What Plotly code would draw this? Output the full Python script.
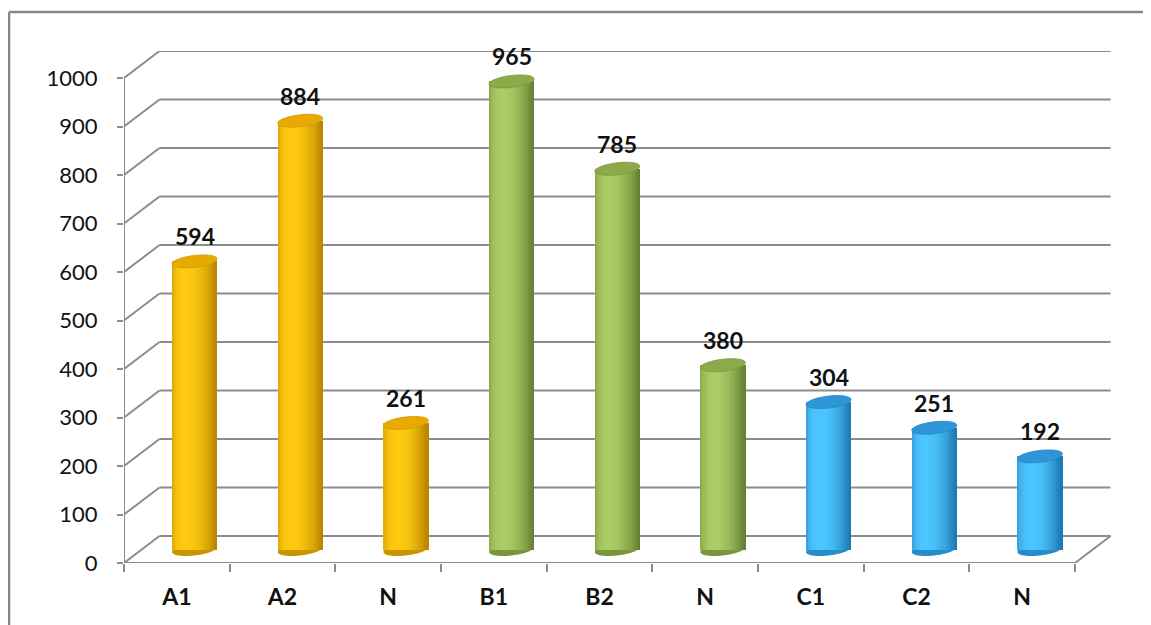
import math
import plotly.graph_objects as go

# ---------------- data ----------------
categories = ["A1", "A2", "N", "B1", "B2", "N", "C1", "C2", "N"]
values = [594, 884, 261, 965, 785, 380, 304, 251, 192]
groups = ["A", "A", "A", "B", "B", "B", "C", "C", "C"]
y_ticks = [0, 100, 200, 300, 400, 500, 600, 700, 800, 900, 1000]

# ---------------- style ----------------
PAGE_OFF = 8                      # default body margin of the html page
W, H = 1151 - PAGE_OFF, 625 - PAGE_OFF
ML, MR, MT, MB = 124 - PAGE_OFF, 39, 51 - PAGE_OFF, 62
PLOT_W = W - ML - MR
PLOT_H = H - MT - MB
X_RANGE = [-0.5, 8.85]
DEPTH_X = 0.336            # depth offset (category units)
Y_MAX_FRONT = 1000
DEPTH_Y_PX = 27
px_per_x = PLOT_W / (X_RANGE[1] - X_RANGE[0])
y_top = Y_MAX_FRONT / (PLOT_H - DEPTH_Y_PX) * PLOT_H
px_per_y = PLOT_H / y_top
DEPTH_Y = DEPTH_Y_PX / px_per_y
GRID = "#8C8C8C"
FONT = "Lato"

palette = {
    "A": {"dark": (186, 136, 0), "light": (255, 202, 16), "top": (232, 170, 0), "bot": (200, 148, 0)},
    "B": {"dark": (104, 130, 52), "light": (172, 204, 102), "top": (139, 170, 74), "bot": (120, 150, 60)},
    "C": {"dark": (30, 122, 180), "light": (76, 198, 255), "top": (46, 150, 214), "bot": (40, 140, 200)},
}

BAR_W = 0.426
mid_x = DEPTH_X / 2
mid_y = DEPTH_Y / 2
NSLICE = 22


def mix(c1, c2, t):
    return "rgb(%d,%d,%d)" % tuple(round(a + (b - a) * t) for a, b in zip(c1, c2))


def shade(t):
    s = 2 * t - 1
    nz = math.sqrt(max(0.0, 1 - s * s))
    lx, lz = -0.38, 0.925
    return max(0.0, s * lx + nz * lz) ** 1.3


fig = go.Figure()

xs = [i + mid_x for i in range(len(categories))]
bases = [mid_y] * len(values)

for k in range(NSLICE):
    t = (k + 0.5) / NSLICE
    cols = [mix(palette[g]["dark"], palette[g]["light"], shade(t)) for g in groups]
    fig.add_trace(go.Bar(
        x=xs, y=values, base=bases,
        width=BAR_W / NSLICE * 1.08,
        offset=-BAR_W / 2 + k * BAR_W / NSLICE,
        marker=dict(color=cols, line=dict(width=0)),
        hoverinfo="skip", showlegend=False,
    ))

shapes = []

# back wall gridlines + left wall diagonals
for v in y_ticks:
    shapes.append(dict(type="line", xref="x", yref="y", layer="below",
                       x0=X_RANGE[0] + DEPTH_X, x1=8.5 + DEPTH_X, y0=v + DEPTH_Y, y1=v + DEPTH_Y,
                       line=dict(color=GRID, width=2)))
    shapes.append(dict(type="line", xref="x", yref="y", layer="below",
                       x0=X_RANGE[0], x1=X_RANGE[0] + DEPTH_X, y0=v, y1=v + DEPTH_Y,
                       line=dict(color=GRID, width=2)))
# floor front edge and right diagonal
shapes.append(dict(type="line", xref="x", yref="y", layer="below",
                   x0=X_RANGE[0], x1=8.5, y0=0, y1=0, line=dict(color=GRID, width=2)))
shapes.append(dict(type="line", xref="x", yref="y", layer="below",
                   x0=8.5, x1=8.5 + DEPTH_X, y0=0, y1=DEPTH_Y, line=dict(color=GRID, width=2)))
# front value axis
shapes.append(dict(type="line", xref="x", yref="y", layer="below",
                   x0=X_RANGE[0], x1=X_RANGE[0], y0=0, y1=Y_MAX_FRONT, line=dict(color=GRID, width=2)))
# outer chart frame (left and top edges visible)
FR_L, FR_T = 1, 4
shapes.append(dict(type="line", xref="paper", yref="paper", layer="below",
                   x0=(FR_L - ML) / PLOT_W, x1=(W + 10 - ML) / PLOT_W,
                   y0=(H - FR_T - MB) / PLOT_H, y1=(H - FR_T - MB) / PLOT_H,
                   line=dict(color="#878787", width=2.5)))
shapes.append(dict(type="line", xref="paper", yref="paper", layer="below",
                   x0=(FR_L - ML) / PLOT_W, x1=(FR_L - ML) / PLOT_W,
                   y0=-(MB + 10) / PLOT_H, y1=(H - FR_T - MB) / PLOT_H,
                   line=dict(color="#878787", width=2.5)))


def ellipse_path(cx, cy, a_px, b_px, tilt_px, n=48):
    pts = []
    for j in range(n):
        ph = 2 * math.pi * j / n
        dxp = a_px * math.cos(ph)
        dyp = b_px * math.sin(ph) + tilt_px * math.cos(ph)
        pts.append((cx + dxp / px_per_x, cy + dyp / px_per_y))
    return "M " + " L ".join("%.5f,%.3f" % p for p in pts) + " Z"


A_PX = BAR_W * px_per_x / 2
B_PX = 6.0
TILT = 2.5
for x, v, g in zip(xs, values, groups):
    shapes.append(dict(type="path", xref="x", yref="y", layer="below",
                       path=ellipse_path(x, mid_y, A_PX, B_PX, TILT),
                       fillcolor=mix(palette[g]["bot"], palette[g]["bot"], 0),
                       line=dict(width=0)))
    shapes.append(dict(type="path", xref="x", yref="y", layer="above",
                       path=ellipse_path(x, mid_y + v, A_PX, B_PX, TILT),
                       fillcolor=mix(palette[g]["top"], palette[g]["top"], 0),
                       line=dict(color=mix(palette[g]["dark"], palette[g]["top"], 0.5), width=0.8)))

annotations = []
for x, v in zip(xs, values):
    annotations.append(dict(x=x, y=mid_y + v, xref="x", yref="y", text=str(v),
                            showarrow=False, yshift=25, yanchor="middle",
                            font=dict(family=FONT, size=23, color="#111111", weight="bold")))

fig.update_layout(
    width=W, height=H,
    margin=dict(l=ML, r=MR, t=MT, b=MB),
    paper_bgcolor="white", plot_bgcolor="white",
    barmode="overlay", bargap=0,
    showlegend=False,
    shapes=shapes, annotations=annotations,
    font=dict(family=FONT, color="#111111"),
    xaxis=dict(range=X_RANGE, showgrid=False, zeroline=False, showline=False,
               tickmode="array", tickvals=list(range(len(categories))), ticktext=categories,
               ticks="", ticklabelstandoff=18,
               tickfont=dict(family=FONT, size=23, color="#111111", weight="bold"),
               minor=dict(tickmode="array", tickvals=[i - 0.5 for i in range(len(categories) + 1)],
                          ticks="outside", ticklen=8, tickwidth=2, tickcolor=GRID, showgrid=False),
               fixedrange=True),
    yaxis=dict(range=[0, y_top], showgrid=False, zeroline=False, showline=False,
               tickmode="array", tickvals=y_ticks,
               ticks="outside", ticklen=6, tickwidth=2, tickcolor=GRID,
               ticklabelstandoff=15,
               tickfont=dict(family=FONT, size=22, color="#111111"),
               fixedrange=True),
)

fig.write_html("out.html", config={"displayModeBar": False})
